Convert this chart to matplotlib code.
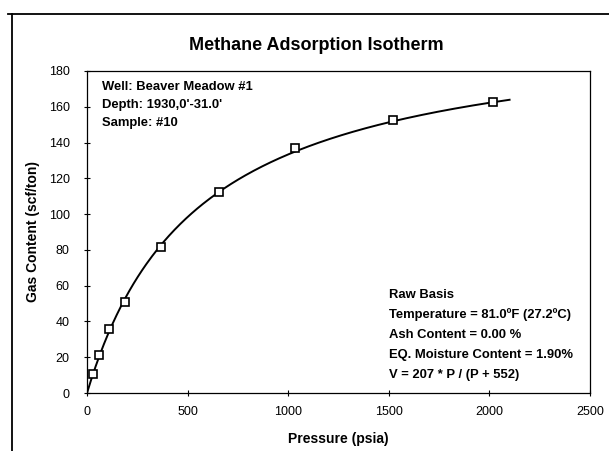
import matplotlib
matplotlib.use("Agg")
import matplotlib.pyplot as plt
from matplotlib.lines import Line2D
import numpy as np

plt.rcParams['font.family'] = ['Liberation Sans', 'DejaVu Sans']

# measured points
pressure = [28, 60, 109, 189, 369, 655, 1035, 1519, 2019]
gas_content = [10.6, 21, 36, 50.7, 81.4, 112.2, 137, 152.4, 162.5]

# Langmuir fit
v_l = 207
p_l = 552
p_max = 2100

x_ticks = [0, 500, 1000, 1500, 2000, 2500]
y_ticks = [0, 20, 40, 60, 80, 100, 120, 140, 160, 180]

info_top = ["Well: Beaver Meadow #1", "Depth: 1930,0'-31.0'", "Sample: #10"]
info_bottom = ["Raw Basis",
               "Temperature = 81.0ºF (27.2ºC)",
               "Ash Content = 0.00 %",
               "EQ. Moisture Content = 1.90%",
               "V = 207 * P / (P + 552)"]

fig = plt.figure(figsize=(6.09, 4.51), dpi=100)
ax = fig.add_axes([0.1429, 0.1286, 0.826, 0.714])

p_fit = np.linspace(0, p_max, 300)
v_fit = v_l * p_fit / (p_fit + p_l)
ax.plot(p_fit, v_fit, color='black', lw=1.4)
ax.plot(pressure, gas_content, ls='none', marker='s', ms=5.5,
        mfc='white', mec='black', mew=1.2)

ax.set_xlim(0, 2500)
ax.set_ylim(0, 180)
ax.set_xticks(x_ticks)
ax.set_yticks(y_ticks)
ax.tick_params(direction='inout', length=5, width=0.8, labelsize=9)
ax.tick_params(axis='y', pad=10)
ax.tick_params(axis='x', pad=7)
for s in ax.spines.values():
    s.set_linewidth(0.9)

ax.set_xlabel("Pressure (psia)", fontsize=10, fontweight='bold', labelpad=10)
ax.set_ylabel("Gas Content (scf/ton)", fontsize=10, fontweight='bold', labelpad=6)
fig.text(0.52, 0.9, "Methane Adsorption Isotherm", ha='center', va='center',
         fontsize=13, fontweight='bold')

for i, t in enumerate(info_top):
    ax.text(0.03, 0.95 - i * 0.055, t, transform=ax.transAxes,
            fontsize=9.4, fontweight='bold', va='center')
for i, t in enumerate(info_bottom):
    ax.text(0.600, 0.305 - i * 0.0625, t, transform=ax.transAxes,
            fontsize=9.4, fontweight='bold', va='center')

# outer frame
fig.add_artist(Line2D([8 / 609, 1.0], [1 - 14 / 451, 1 - 14 / 451],
                      transform=fig.transFigure, color='black', lw=1.3))
fig.add_artist(Line2D([12 / 609, 12 / 609], [0, 1 - 14 / 451],
                      transform=fig.transFigure, color='black', lw=1.3))

fig.savefig("out.png", dpi=100)
